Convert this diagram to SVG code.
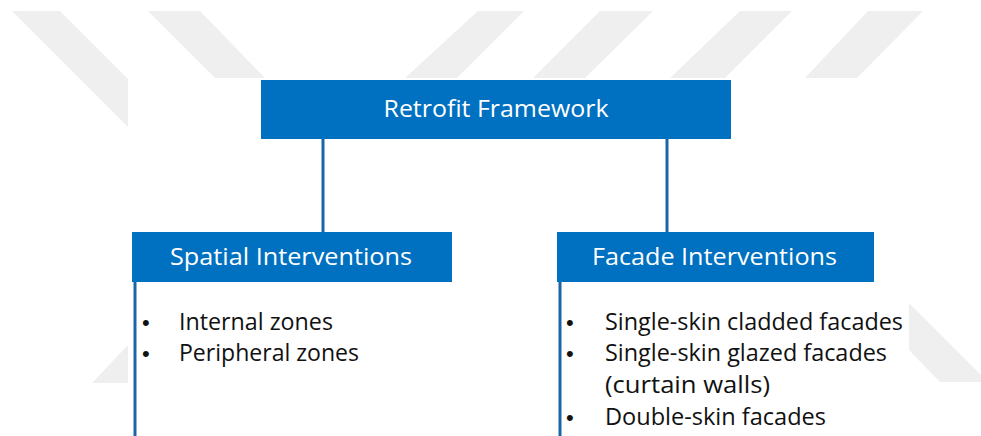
<svg xmlns="http://www.w3.org/2000/svg" width="981" height="436" viewBox="0 0 981 436">
<style>
.wm{fill:#efefef}
.box{fill:#0070C0}
.hd{font-family:"Open Sans","Noto Sans",sans-serif;font-size:24px;fill:#ffffff;text-anchor:middle}
.tx{font-family:"Open Sans","Noto Sans",sans-serif;font-size:23px;fill:#111111}
.bu{font-family:"Liberation Sans",sans-serif;font-size:22px;fill:#111111}
.ln{stroke:#1C64A8;stroke-width:3;fill:none}
</style>
<rect width="981" height="436" fill="#ffffff"/>
<g id="watermark">
<polygon class="wm" points="12,11 60,11 128,79 128,127"/>
<polygon class="wm" points="148,11 200,11 265,78 215,78"/>
<polygon class="wm" points="478,11 524,11 457,78 405,78"/>
<polygon class="wm" points="600,11 653,11 585,78 533,78"/>
<polygon class="wm" points="740,11 792,11 725,78 670,78"/>
<polygon class="wm" points="868,11 923,11 857,78 805,78"/>
<polygon class="wm" points="909,303 981,375 981,382 940,382 909,350"/>
<polygon class="wm" points="92,383 128,345 128,383"/>
</g>
<g id="connectors">
<line class="ln" x1="323" y1="139" x2="323" y2="232"/>
<line class="ln" x1="667" y1="139" x2="667" y2="232"/>
<line class="ln" x1="135" y1="282" x2="135" y2="436"/>
<line class="ln" x1="560" y1="282" x2="560" y2="436"/>
</g>
<g id="retrofit-framework">
<rect class="box" x="261" y="80" width="470" height="59"/>
<text class="hd" x="496" y="117" textLength="225" lengthAdjust="spacingAndGlyphs">Retrofit Framework</text>
</g>
<g id="spatial-interventions">
<rect class="box" x="132" y="232" width="320" height="50"/>
<text class="hd" x="291" y="265" textLength="242" lengthAdjust="spacingAndGlyphs">Spatial Interventions</text>
<text class="bu" x="142" y="330">•</text>
<text class="tx" x="179" y="330" textLength="154" lengthAdjust="spacingAndGlyphs">Internal zones</text>
<text class="bu" x="142" y="361">•</text>
<text class="tx" x="179" y="361" textLength="180" lengthAdjust="spacingAndGlyphs">Peripheral zones</text>
</g>
<g id="facade-interventions">
<rect class="box" x="557" y="232" width="317" height="50"/>
<text class="hd" x="714.5" y="265" textLength="245" lengthAdjust="spacingAndGlyphs">Facade Interventions</text>
<text class="bu" x="566" y="330">•</text>
<text class="tx" x="605" y="330" textLength="298" lengthAdjust="spacingAndGlyphs">Single-skin cladded facades</text>
<text class="bu" x="566" y="361">•</text>
<text class="tx" x="605" y="361" textLength="282" lengthAdjust="spacingAndGlyphs">Single-skin glazed facades</text>
<text class="tx" x="605" y="393" textLength="165" lengthAdjust="spacingAndGlyphs">(curtain walls)</text>
<text class="bu" x="566" y="425">•</text>
<text class="tx" x="605" y="425" textLength="221" lengthAdjust="spacingAndGlyphs">Double-skin facades</text>
</g>
</svg>
